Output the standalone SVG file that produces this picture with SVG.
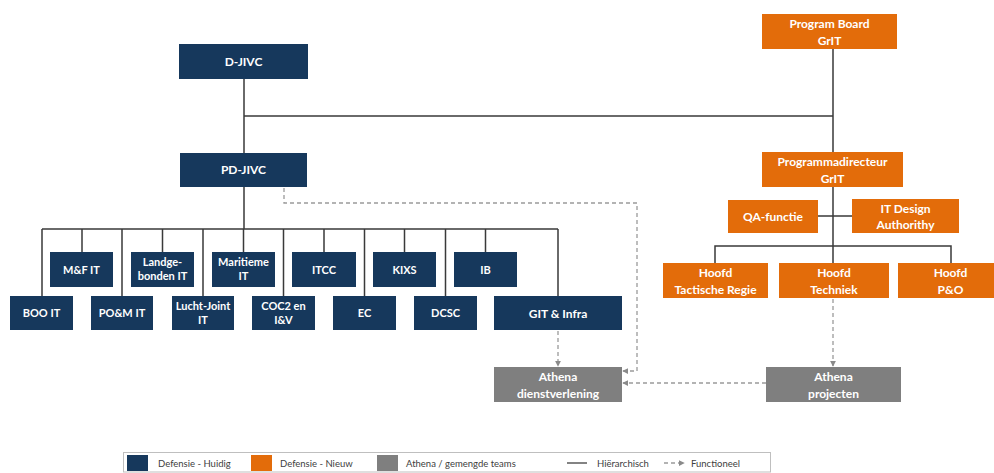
<svg xmlns="http://www.w3.org/2000/svg" width="994" height="473" viewBox="0 0 994 473">
  <defs>
    <style>
      .navy { fill: #16385c; }
      .orange { fill: #e36c0a; }
      .grey { fill: #7f7f7f; }
      .lbl { font-family: Lato, "Open Sans", "Liberation Sans", sans-serif; font-weight: bold; fill: #ffffff; text-anchor: middle; }
      .s11 { font-size: 11px; }
      .s12 { font-size: 12px; }
      .hier { stroke: #3a3a3a; stroke-width: 1.5; fill: none; }
      .func { stroke: #9a9a9a; stroke-width: 1.3; stroke-dasharray: 4 3; fill: none; }
      .leg { font-family: Lato, "Open Sans", "Liberation Sans", sans-serif; font-size: 9.5px; fill: #404040; }
    </style>
    <marker id="arr" viewBox="0 0 8 8" refX="7" refY="4" markerWidth="6" markerHeight="6" orient="auto" markerUnits="userSpaceOnUse">
      <path d="M0,0 L8,4 L0,8 z" fill="#8a8a8a"/>
    </marker>
  </defs>
  <rect width="994" height="473" fill="#ffffff"/>

  <!-- connectors -->
  <g id="connectors">
    <!-- hierarchical lines -->
    <path class="hier" d="M244,79 V153 M244,116 H833 M833,49 V152 M244,187 V229 M42,229 H558"/>
    <path class="hier" d="M42,229 V296 M82,229 V252 M122,229 V296 M162.5,229 V252 M203,229 V296 M243.5,229 V252 M283.5,229 V296 M324,229 V252 M364.5,229 V296 M404.5,229 V252 M445.5,229 V296 M485.5,229 V252 M558,229 V296"/>
    <path class="hier" d="M833,187 V263 M818,216 H852 M715,263 V246 H951 V263"/>
    <!-- functional lines -->
    <path class="func" d="M284,188 V203 H637 V371 H623" marker-end="url(#arr)"/>
    <path class="func" d="M558,331 V366" marker-end="url(#arr)"/>
    <path class="func" d="M833,299 V366" marker-end="url(#arr)"/>
    <path class="func" d="M766,383 H623" marker-end="url(#arr)"/>
  </g>

  <!-- current defence units -->
  <g id="d-jivc"><rect class="navy" x="179" y="44" width="129" height="35"/><text class="lbl s12" x="243.5" y="65.5">D-JIVC</text></g>
  <g id="pd-jivc"><rect class="navy" x="180" y="153" width="127" height="34"/><text class="lbl s12" x="243.5" y="174">PD-JIVC</text></g>

  <g id="mf-it"><rect class="navy" x="50" y="252" width="63" height="35"/><text class="lbl s11" x="81.5" y="273.5">M&amp;F IT</text></g>
  <g id="landgebonden-it"><rect class="navy" x="131" y="252" width="63" height="35"/><text class="lbl s11" x="162.5" y="266">Landge-</text><text class="lbl s11" x="162.5" y="280">bonden IT</text></g>
  <g id="maritieme-it"><rect class="navy" x="212" y="252" width="63" height="35"/><text class="lbl s11" x="243.5" y="266">Maritieme</text><text class="lbl s11" x="243.5" y="280">IT</text></g>
  <g id="itcc"><rect class="navy" x="292" y="252" width="64" height="35"/><text class="lbl s11" x="324" y="273.5">ITCC</text></g>
  <g id="kixs"><rect class="navy" x="373" y="252" width="63" height="35"/><text class="lbl s11" x="404.5" y="273.5">KIXS</text></g>
  <g id="ib"><rect class="navy" x="454" y="252" width="63" height="35"/><text class="lbl s11" x="485.5" y="273.5">IB</text></g>

  <g id="boo-it"><rect class="navy" x="10" y="296" width="63" height="34"/><text class="lbl s11" x="41.5" y="317">BOO IT</text></g>
  <g id="pom-it"><rect class="navy" x="91" y="296" width="62" height="34"/><text class="lbl s11" x="122" y="317">PO&amp;M IT</text></g>
  <g id="lucht-joint-it"><rect class="navy" x="172" y="296" width="62" height="34"/><text class="lbl s11" x="203" y="310">Lucht-Joint</text><text class="lbl s11" x="203" y="324">IT</text></g>
  <g id="coc2-iv"><rect class="navy" x="252" y="296" width="63" height="34"/><text class="lbl s11" x="283.5" y="310">COC2 en</text><text class="lbl s11" x="283.5" y="324">I&amp;V</text></g>
  <g id="ec"><rect class="navy" x="333" y="296" width="63" height="34"/><text class="lbl s11" x="364.5" y="317">EC</text></g>
  <g id="dcsc"><rect class="navy" x="414" y="296" width="63" height="34"/><text class="lbl s11" x="445.5" y="317">DCSC</text></g>
  <g id="git-infra"><rect class="navy" x="494" y="296" width="128" height="34"/><text class="lbl s12" x="558" y="317.5">GIT &amp; Infra</text></g>

  <!-- new defence units -->
  <g id="program-board"><rect class="orange" x="762" y="14" width="135" height="35"/><text class="lbl s12" x="829.5" y="28">Program Board</text><text class="lbl s12" x="829.5" y="45">GrIT</text></g>
  <g id="programmadirecteur"><rect class="orange" x="762" y="152" width="141" height="35"/><text class="lbl s12" x="832.5" y="166">Programmadirecteur</text><text class="lbl s12" x="832.5" y="183">GrIT</text></g>
  <g id="qa-functie"><rect class="orange" x="728" y="200" width="90" height="33"/><text class="lbl s12" x="773" y="221">QA-functie</text></g>
  <g id="it-design-authority"><rect class="orange" x="852" y="199" width="107" height="34"/><text class="lbl s12" x="905.5" y="213">IT Design</text><text class="lbl s12" x="905.5" y="229">Authorithy</text></g>
  <g id="hoofd-tactische-regie"><rect class="orange" x="663" y="263" width="105" height="35"/><text class="lbl s12" x="715.5" y="277">Hoofd</text><text class="lbl s12" x="715.5" y="294">Tactische Regie</text></g>
  <g id="hoofd-techniek"><rect class="orange" x="779" y="263" width="110" height="35"/><text class="lbl s12" x="834" y="277">Hoofd</text><text class="lbl s12" x="834" y="294">Techniek</text></g>
  <g id="hoofd-po"><rect class="orange" x="898" y="263" width="105" height="35"/><text class="lbl s12" x="950.5" y="277">Hoofd</text><text class="lbl s12" x="950.5" y="294">P&amp;O</text></g>

  <!-- Athena teams -->
  <g id="athena-dienstverlening"><rect class="grey" x="494" y="367" width="128" height="35"/><text class="lbl s12" x="558" y="381">Athena</text><text class="lbl s12" x="558" y="398">dienstverlening</text></g>
  <g id="athena-projecten"><rect class="grey" x="766" y="367" width="135" height="35"/><text class="lbl s12" x="833.5" y="381">Athena</text><text class="lbl s12" x="833.5" y="398">projecten</text></g>

  <!-- legend -->
  <g id="legend">
    <rect x="123.5" y="452.5" width="647" height="19.5" fill="#ffffff" stroke="#bfbfbf" stroke-width="1"/>
    <rect class="navy" x="127" y="455" width="21" height="16"/>
    <text class="leg" x="158" y="466.5">Defensie - Huidig</text>
    <rect class="orange" x="251" y="455" width="21" height="16"/>
    <text class="leg" x="280" y="466.5">Defensie - Nieuw</text>
    <rect class="grey" x="377" y="455" width="21" height="16"/>
    <text class="leg" x="406" y="466.5">Athena / gemengde teams</text>
    <line x1="567" y1="463" x2="587" y2="463" stroke="#404040" stroke-width="1.3"/>
    <text class="leg" x="597" y="466.5">Hiërarchisch</text>
    <path class="func" d="M664,463 H684" stroke-dasharray="3 3" marker-end="url(#arr)"/>
    <text class="leg" x="691" y="466.5">Functioneel</text>
  </g>
</svg>
